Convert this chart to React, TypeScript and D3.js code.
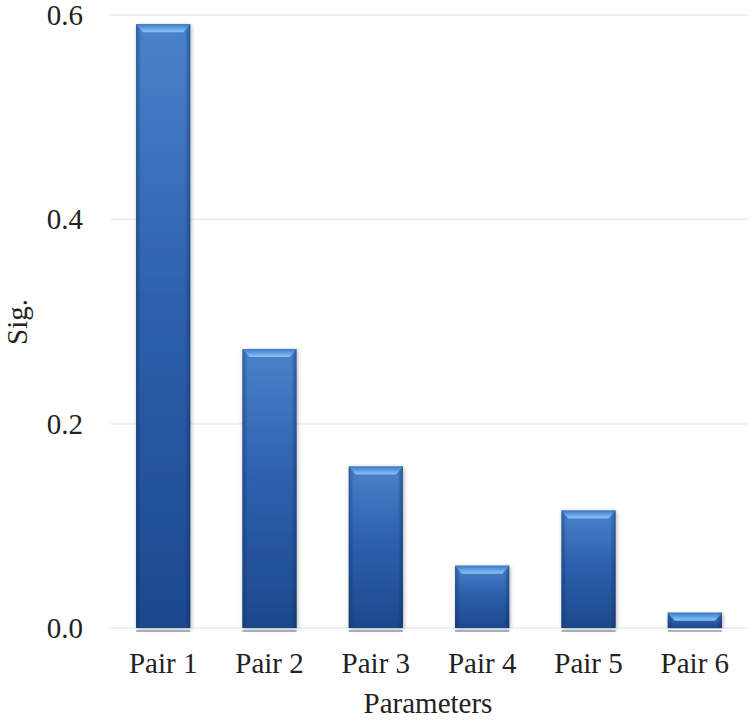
import React, { useEffect, useRef } from 'react';
import * as d3 from 'd3';

const pairs = ['Pair 1', 'Pair 2', 'Pair 3', 'Pair 4', 'Pair 5', 'Pair 6'];
const sigValues = [0.591, 0.273, 0.158, 0.061, 0.115, 0.015];
const yTicks = [0, 0.2, 0.4, 0.6];

const App = () => {
  const svgRef = useRef<SVGSVGElement>(null);

  useEffect(() => {
    const width = 750;
    const height = 720;
    const left = 110;
    const right = 748;
    const top = 15;
    const bottom = 628;
    const font = '"Liberation Serif", "Times New Roman", serif';

    const svg = d3.select(svgRef.current);
    svg.selectAll('*').remove();
    svg.attr('width', width).attr('height', height);

    const x = d3.scaleBand<string>().domain(pairs).range([left, right]).paddingInner(0.49).paddingOuter(0.245);
    const y = d3.scaleLinear().domain([0, 0.6]).range([bottom, top]);

    // gradients and shadow
    const defs = svg.append('defs');
    const body = defs.append('linearGradient').attr('id', 'barBody').attr('x1', 0).attr('y1', 0).attr('x2', 0).attr('y2', 1);
    body.append('stop').attr('offset', '0%').attr('stop-color', '#4d87d0');
    body.append('stop').attr('offset', '45%').attr('stop-color', '#2f64b2');
    body.append('stop').attr('offset', '100%').attr('stop-color', '#1d4a8f');

    const sides = defs.append('linearGradient').attr('id', 'barSides').attr('x1', 0).attr('y1', 0).attr('x2', 1).attr('y2', 0);
    sides.append('stop').attr('offset', '0%').attr('stop-color', '#0d2a5a').attr('stop-opacity', 0.45);
    sides.append('stop').attr('offset', '10%').attr('stop-color', '#0d2a5a').attr('stop-opacity', 0.05);
    sides.append('stop').attr('offset', '90%').attr('stop-color', '#0d2a5a').attr('stop-opacity', 0.05);
    sides.append('stop').attr('offset', '100%').attr('stop-color', '#0d2a5a').attr('stop-opacity', 0.5);

    const bevel = defs.append('linearGradient').attr('id', 'barBevel').attr('x1', 0).attr('y1', 0).attr('x2', 0).attr('y2', 1);
    bevel.append('stop').attr('offset', '0%').attr('stop-color', '#3b78c6');
    bevel.append('stop').attr('offset', '65%').attr('stop-color', '#6eaceb');
    bevel.append('stop').attr('offset', '100%').attr('stop-color', '#8cc2f2');

    const shadow = defs.append('filter').attr('id', 'barShadow').attr('x', '-20%').attr('y', '-5%').attr('width', '140%').attr('height', '110%');
    shadow.append('feDropShadow').attr('dx', 1).attr('dy', 1).attr('stdDeviation', 2).attr('flood-color', '#000').attr('flood-opacity', 0.3);

    // grid lines
    svg.append('g')
      .selectAll('line')
      .data(yTicks)
      .enter()
      .append('line')
      .attr('x1', left)
      .attr('x2', right)
      .attr('y1', d => y(d))
      .attr('y2', d => y(d))
      .attr('stroke', '#efefef')
      .attr('stroke-width', 2);

    // y tick labels
    svg.append('g')
      .selectAll('text')
      .data(yTicks)
      .enter()
      .append('text')
      .attr('x', 83)
      .attr('y', d => y(d))
      .attr('dy', '0.35em')
      .attr('text-anchor', 'end')
      .style('font-family', font)
      .style('font-size', '29px')
      .attr('fill', '#222')
      .text(d => d3.format('.1f')(d));

    // bars
    const bars = svg.append('g')
      .selectAll('g')
      .data(pairs.map((p, i) => ({ p, v: sigValues[i] })))
      .enter()
      .append('g');

    const bw = x.bandwidth();

    // reflection line under each bar
    bars.append('line')
      .attr('x1', d => x(d.p)!)
      .attr('x2', d => x(d.p)! + bw)
      .attr('y1', bottom + 3)
      .attr('y2', bottom + 3)
      .attr('stroke', '#8f9cb2')
      .attr('stroke-width', 1.5);

    bars.append('rect')
      .attr('x', d => x(d.p)!)
      .attr('y', d => y(d.v))
      .attr('width', bw)
      .attr('height', d => y(0) - y(d.v))
      .attr('fill', 'url(#barBody)')
      .attr('filter', 'url(#barShadow)');

    bars.append('rect')
      .attr('x', d => x(d.p)!)
      .attr('y', d => y(d.v))
      .attr('width', bw)
      .attr('height', d => y(0) - y(d.v))
      .attr('fill', 'url(#barSides)');

    bars.append('path')
      .attr('d', d => {
        const x0 = x(d.p)!;
        const y0 = y(d.v);
        return `M${x0},${y0}L${x0 + bw},${y0}L${x0 + bw - 7},${y0 + 8}L${x0 + 7},${y0 + 8}Z`;
      })
      .attr('fill', 'url(#barBevel)');

    // x labels
    svg.append('g')
      .selectAll('text')
      .data(pairs)
      .enter()
      .append('text')
      .attr('x', d => x(d)! + bw / 2)
      .attr('y', 673)
      .attr('text-anchor', 'middle')
      .style('font-family', font)
      .style('font-size', '29px')
      .attr('fill', '#222')
      .text(d => d);

    // axis titles
    svg.append('text')
      .attr('x', (left + right) / 2 - 1)
      .attr('y', 713)
      .attr('text-anchor', 'middle')
      .style('font-family', font)
      .style('font-size', '29px')
      .attr('fill', '#222')
      .text('Parameters');

    svg.append('text')
      .attr('transform', 'translate(27, 322) rotate(-90)')
      .attr('text-anchor', 'middle')
      .style('font-family', font)
      .style('font-size', '29px')
      .attr('fill', '#222')
      .text('Sig.');
  }, []);

  return <svg ref={svgRef} style={{ position: 'absolute', left: 0, top: 0 }}></svg>;
};

export default App;
